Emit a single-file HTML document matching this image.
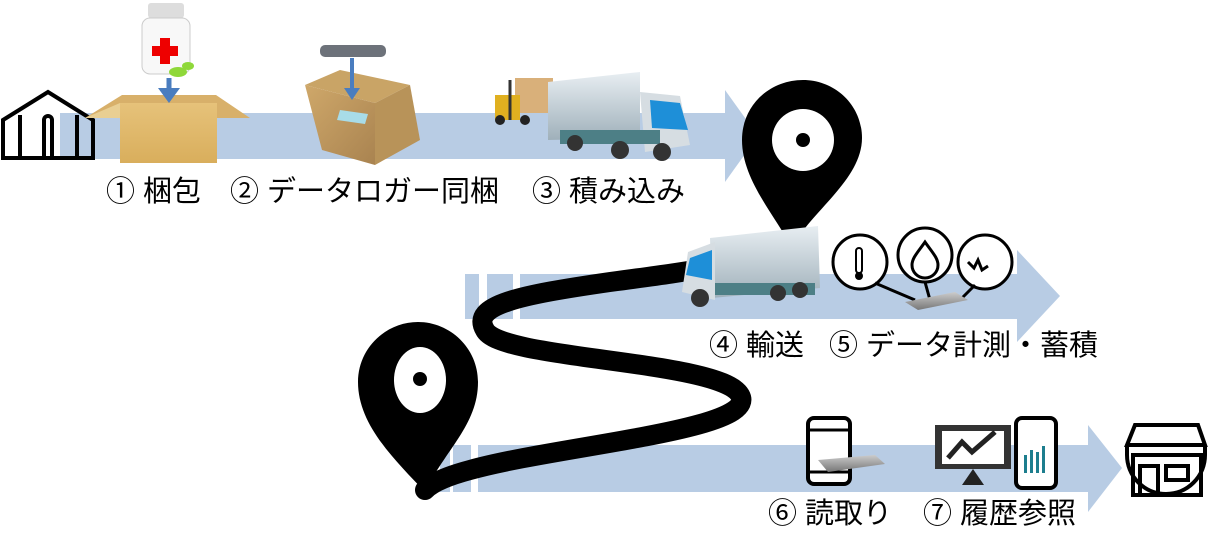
<!DOCTYPE html>
<html><head><meta charset="utf-8"><style>
html,body{margin:0;padding:0;background:#fff;}
.wrap{position:relative;width:1216px;height:553px;overflow:hidden;font-family:"Liberation Sans","Noto Sans CJK JP",sans-serif;}
.t{position:absolute;font-size:29px;color:#000;white-space:nowrap;line-height:1;}
svg{position:absolute;left:0;top:0;}
</style></head><body><div class="wrap">
<svg width="1216" height="553" viewBox="0 0 1216 553">
<defs>
<linearGradient id="box" x1="0" y1="0" x2="0" y2="1"><stop offset="0" stop-color="#e6c27a"/><stop offset="1" stop-color="#d9ae5c"/></linearGradient>
<linearGradient id="box2" x1="0" y1="0" x2="1" y2="1"><stop offset="0" stop-color="#cfa86a"/><stop offset="1" stop-color="#a98350"/></linearGradient>
<linearGradient id="cont" x1="0" y1="0" x2="0" y2="1"><stop offset="0" stop-color="#e8eef2"/><stop offset="1" stop-color="#9fb0ba"/></linearGradient>
<linearGradient id="dev" x1="0" y1="0" x2="0" y2="1"><stop offset="0" stop-color="#ccc"/><stop offset="1" stop-color="#777"/></linearGradient>
</defs>
<g fill="#b8cce4">
<rect x="60" y="113" width="667" height="46"/>
<polygon points="725,90 758,136 725,182"/>
<rect x="465" y="274" width="14" height="45"/><rect x="487" y="274" width="26" height="45"/><rect x="520" y="274" width="500" height="45"/>
<polygon points="1017,250 1060,296 1017,342"/>
<rect x="420" y="445" width="12" height="47"/><rect x="440" y="445" width="10" height="47"/><rect x="453" y="445" width="18" height="47"/><rect x="478" y="445" width="612" height="47"/>
<polygon points="1088,425 1122,468 1088,512"/>
</g>
<path d="M795,240 C760,262 700,270 610,282 C520,295 470,305 485,330 C500,360 720,360 740,395 C760,430 560,445 470,470 C440,478 430,485 425,490" fill="none" stroke="#000" stroke-width="20" stroke-linecap="round"/>
<path d="M803,80 C770,80 742,105 742,140 C742,180 775,215 792,248 C810,212 862,180 862,138 C862,105 835,80 803,80 Z" fill="#000"/>
<circle cx="803" cy="140" r="31" fill="#fff"/><circle cx="803" cy="140" r="7" fill="#000"/>
<path d="M418,322 C386,322 358,348 358,382 C358,425 395,460 425,492 C445,450 478,425 478,382 C478,348 450,322 418,322 Z" fill="#000"/>
<ellipse cx="420" cy="380" rx="26" ry="33" fill="#fff"/><circle cx="420" cy="379" r="7" fill="#000"/>
<g fill="none" stroke="#000" stroke-width="4">
<path d="M3,120 L48,92 L93,120 L93,158 L3,158 Z"/>
<line x1="20" y1="115" x2="20" y2="158"/><line x1="77" y1="115" x2="77" y2="158"/>
<path d="M44,158 V120 a4,4 0 0 1 8,0 V158"/>
</g>
<polygon points="85,118 122,95 216,95 250,118 215,118" fill="#d8b06a"/>
<rect x="120" y="103" width="97" height="60" fill="url(#box)"/>
<polygon points="120,103 85,118 120,118" fill="#e9cf93"/>
<rect x="148" y="3" width="36" height="15" rx="3" fill="#ddd"/>
<rect x="142" y="18" width="48" height="56" rx="8" fill="#f8f8f8" stroke="#ccc"/>
<path d="M160,38h10v8h8v10h-8v8h-10v-8h-8v-10h8z" fill="#e00"/>
<ellipse cx="178" cy="72" rx="9" ry="5" fill="#8fd83a"/><ellipse cx="188" cy="66" rx="6" ry="4" fill="#8fd83a"/>
<line x1="169" y1="78" x2="169" y2="98" stroke="#4a7dbf" stroke-width="5"/><polygon points="158,88 169,103 180,88" fill="#4a7dbf"/>
<polygon points="305,85 340,70 410,85 375,103" fill="#c9a466"/>
<polygon points="305,85 375,103 375,165 322,150" fill="url(#box2)"/>
<polygon points="375,103 410,85 420,140 375,165" fill="#b89359"/>
<polygon points="340,110 368,114 365,124 337,120" fill="#a8dce8"/>
<rect x="320" y="45" width="66" height="12" rx="5" fill="#6d727a"/>
<line x1="352" y1="58" x2="352" y2="95" stroke="#4a7dbf" stroke-width="4"/><polygon points="344,88 352,100 360,88" fill="#4a7dbf"/>
<rect x="515" y="78" width="38" height="35" fill="#d9b07a"/>
<rect x="495" y="95" width="25" height="25" fill="#e0b020"/><line x1="510" y1="80" x2="510" y2="120" stroke="#333" stroke-width="3"/>
<circle cx="500" cy="120" r="5" fill="#222"/><circle cx="525" cy="120" r="5" fill="#222"/>
<polygon points="548,82 640,72 640,138 548,140" fill="url(#cont)"/>
<polygon points="640,92 680,96 690,145 645,152" fill="#d6dde2"/>
<polygon points="650,100 680,103 688,130 652,128" fill="#1e8fd8"/>
<rect x="560" y="130" width="100" height="14" fill="#4d7f86"/>
<circle cx="620" cy="150" r="9" fill="#333"/><circle cx="662" cy="152" r="9" fill="#333"/><circle cx="575" cy="143" r="8" fill="#333"/>
<polygon points="710,238 818,226 820,288 712,298" fill="url(#cont)"/>
<polygon points="688,252 715,242 715,300 682,292" fill="#d6dde2"/>
<polygon points="690,258 712,250 712,280 686,275" fill="#1e8fd8"/>
<rect x="715" y="283" width="100" height="12" fill="#4d7f86"/>
<circle cx="700" cy="298" r="9" fill="#333"/><circle cx="778" cy="293" r="8" fill="#333"/><circle cx="800" cy="290" r="8" fill="#333"/>
<g fill="#fff" stroke="#000" stroke-width="3">
<circle cx="860" cy="262" r="27"/><circle cx="925" cy="255" r="27"/><circle cx="985" cy="262" r="27"/>
<path d="M875,283 L915,300 M925,282 L930,300 M975,285 L960,300" fill="none"/>
</g>
<rect x="856" y="248" width="6" height="25" rx="3" fill="none" stroke="#000" stroke-width="2"/><circle cx="859" cy="276" r="4" fill="#000"/>
<path d="M925,242 C918,252 912,258 912,265 a13,13 0 0 0 26,0 C938,258 932,252 925,242Z" fill="none" stroke="#000" stroke-width="3"/>
<path d="M968,262 l6,6 l4,-8 l4,10 l6,-4" fill="none" stroke="#000" stroke-width="3"/>
<path d="M905,302 L955,292 L968,300 L918,310 Z" fill="url(#dev)"/>
<rect x="808" y="418" width="42" height="66" rx="6" fill="#fff" stroke="#000" stroke-width="4"/>
<line x1="808" y1="430" x2="850" y2="430" stroke="#000" stroke-width="3"/><line x1="808" y1="472" x2="850" y2="472" stroke="#000" stroke-width="3"/>
<path d="M818,460 L875,455 L885,464 L828,472 Z" fill="url(#dev)"/>
<rect x="935" y="425" width="76" height="44" fill="#333"/><rect x="942" y="431" width="62" height="33" fill="#fff"/>
<path d="M948,458 L962,442 L972,452 L995,432" fill="none" stroke="#222" stroke-width="5"/>
<polygon points="962,485 984,485 973,469" fill="#222"/>
<rect x="1016" y="418" width="40" height="70" rx="6" fill="#fff" stroke="#000" stroke-width="4"/>
<g fill="#1d7e8e"><rect x="1024" y="455" width="3" height="18"/><rect x="1030" y="450" width="3" height="23"/><rect x="1036" y="452" width="3" height="21"/><rect x="1042" y="446" width="3" height="27"/></g>
<g fill="none" stroke="#000" stroke-width="4">
<path d="M1135,425 H1198 L1205,445 H1127 Z"/>
<path d="M1127,445 v10 a6,6 0 0 0 78,0 v-10"/>
<rect x="1133" y="455" width="68" height="40"/>
<rect x="1140" y="466" width="18" height="29"/><rect x="1166" y="466" width="22" height="14"/>
</g>
</svg>
<div class="t" style="left:106px;top:178px">① 梱包</div>
<div class="t" style="left:230px;top:178px">② データロガー同梱</div>
<div class="t" style="left:532px;top:178px">③ 積み込み</div>
<div class="t" style="left:709px;top:332px">④ 輸送</div>
<div class="t" style="left:829px;top:332px">⑤ データ計測・蓄積</div>
<div class="t" style="left:768px;top:500px">⑥ 読取り</div>
<div class="t" style="left:923px;top:500px">⑦ 履歴参照</div>
</div></body></html>
